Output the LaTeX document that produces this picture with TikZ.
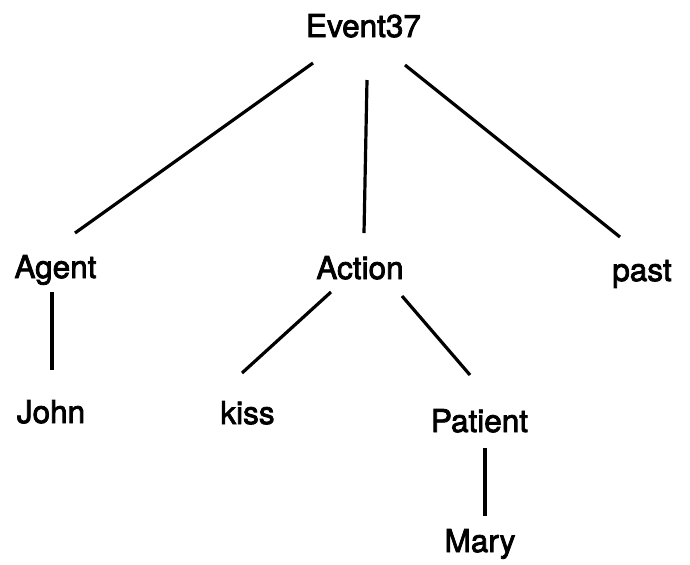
\documentclass[tikz,border=0pt]{standalone}
\usepackage{fontspec}
\setmainfont{TeX Gyre Heros}[FakeBold=2.5]
\usetikzlibrary{calc}

\begin{document}
\begin{tikzpicture}[x=0.5pt,y=-0.5pt,
  word/.style={anchor=base,inner sep=0pt,font=\fontsize{15.75}{19}\selectfont},
  edge/.style={line width=1.6pt}]
\useasboundingbox (0,0) rectangle (690,564);

\node[word] (ev) at (363.5,37) {Event37};
\node[word] (ag) at (55.5,278) {Agent};
\node[word] (ac) at (360,279) {Action};
\node[word] (pa) at (642,281) {past};
\node[word] (jo) at (51,423) {John};
\node[word] (ki) at (247.5,424) {kiss};
\node[word] (pt) at (479.5,432) {Patient};
\node[word] (ma) at (480,552) {Mary};

\draw[edge] ($(ev.base)+(-50.5,26)$) -- ($(ag.base)+(19.5,-45)$);
\draw[edge] ($(ev.base)+(3.5,43)$) -- ($(ac.base)+(4,-46)$);
\draw[edge] ($(ev.base)+(41.5,28)$) -- ($(pa.base)+(-22,-44)$);
\draw[edge] ($(ag.base)+(-3.5,14)$) -- ($(jo.base)+(1,-53)$);
\draw[edge] ($(ac.base)+(-29,13)$) -- ($(ki.base)+(-5.5,-51)$);
\draw[edge] ($(ac.base)+(42,17)$) -- ($(pt.base)+(-9.5,-57)$);
\draw[edge] ($(pt.base)+(5.5,16)$) -- ($(ma.base)+(5,-36)$);

\end{tikzpicture}
\end{document}
